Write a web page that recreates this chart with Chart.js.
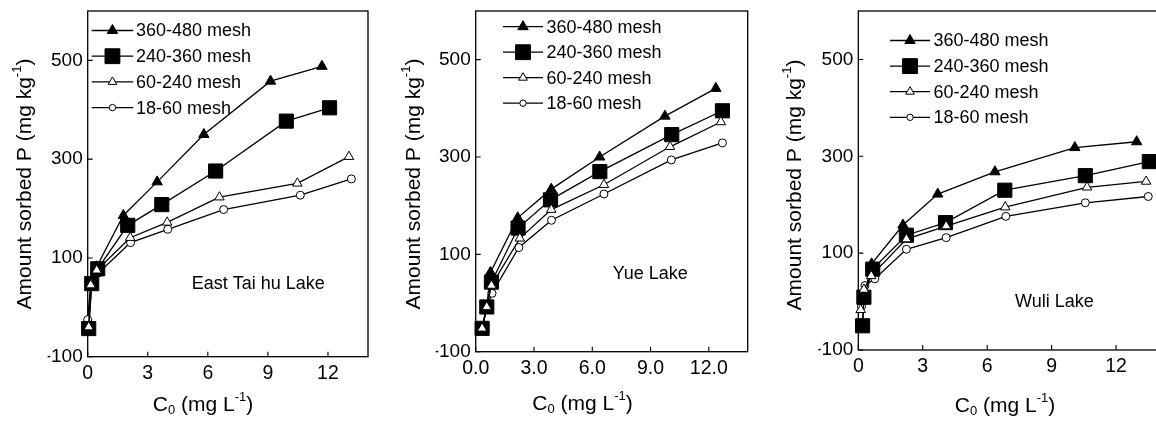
<!DOCTYPE html>
<html><head><meta charset="utf-8">
<script src="https://cdn.jsdelivr.net/npm/chart.js@4.4.1/dist/chart.umd.min.js"></script>
<style>
html,body{margin:0;padding:0;background:#fff;overflow:hidden;width:1156px;height:423px;position:relative;}
canvas{position:absolute;left:0;top:0;}
</style></head><body>
<canvas id="c1"></canvas>
<canvas id="c2"></canvas>
<canvas id="c3"></canvas>
<script>
// ---------- data ----------
const seriesLabels = ['360-480 mesh', '240-360 mesh', '60-240 mesh', '18-60 mesh'];
const xTickVals = [0, 3, 6, 9, 12];
const xTickLabelsInt = ['0', '3', '6', '9', '12'];
const xTickLabelsDec = ['0.0', '3.0', '6.0', '9.0', '12.0'];
const yTickVals = [-100, 100, 300, 500];
const yTickLabels = ['-100', '100', '300', '500'];
const panelNames = ['East Tai hu Lake', 'Yue Lake', 'Wuli Lake'];

// East Tai hu Lake
const east_x_360 = [0.05, 0.2, 0.45, 1.78, 3.47, 5.8, 9.13, 11.7];
const east_y_360 = [-43, 50, 82, 186, 254, 350, 458, 488];
const east_x_240 = [0.05, 0.2, 0.5, 2.0, 3.7, 6.39, 9.92, 12.08];
const east_y_240 = [-43, 48, 78, 166, 208, 276, 377, 404];
const east_x_60 = [0.05, 0.15, 0.45, 2.12, 3.97, 6.58, 10.47, 13.05];
const east_y_60 = [-40, 45, 75, 141, 172, 223, 251, 305];
const east_x_18 = [0.0, 0.15, 0.55, 2.14, 4.0, 6.79, 10.62, 13.17];
const east_y_18 = [-25, 48, 70, 131, 158, 198, 227, 260];

// Yue Lake
const yue_x_360 = [0.33, 0.57, 0.76, 2.16, 3.89, 6.38, 9.74, 12.36];
const yue_y_360 = [-52, -8, 63, 175, 234, 300, 384, 441];
const yue_x_240 = [0.33, 0.57, 0.81, 2.18, 3.85, 6.39, 10.09, 12.7];
const yue_y_240 = [-52, -8, 43, 154, 212, 270, 346, 395];
const yue_x_60 = [0.33, 0.57, 0.81, 2.27, 3.89, 6.6, 10.0, 12.62];
const yue_y_60 = [-52, -8, 36, 133, 192, 243, 321, 372];
const yue_x_18 = [0.33, 0.6, 0.84, 2.22, 3.9, 6.6, 10.07, 12.7];
const yue_y_18 = [-50, -6, 20, 114, 170, 224, 294, 329];

// Wuli Lake
const wuli_x_360 = [0.2, 0.26, 0.62, 2.08, 3.7, 6.36, 10.08, 12.96];
const wuli_y_360 = [-50, 10, 78, 158, 222, 268, 318, 330];
const wuli_x_240 = [0.2, 0.26, 0.67, 2.24, 4.06, 6.82, 10.57, 13.55];
const wuli_y_240 = [-50, 9, 67, 137, 163, 230, 260, 289];
const wuli_x_60 = [0.11, 0.26, 0.6, 2.24, 4.09, 6.84, 10.65, 13.4];
const wuli_y_60 = [-17, 25, 53, 129, 156, 195, 236, 248];
const wuli_x_18 = [0.15, 0.31, 0.77, 2.24, 4.09, 6.87, 10.57, 13.5];
const wuli_y_18 = [-10, 33, 47, 108, 132, 176, 204, 217];

// ---------- styles ----------
const FONT = '"Liberation Sans", Arial, Helvetica, sans-serif';
const CW = 1170, CH = 423, YW = 40, XH = 40;
const seriesStyles = [
  {pointStyle: 'triangle', radius: 6, bg: '#000', legendRadius: 6, order: 4},
  {pointStyle: 'rect', radius: 10, bg: '#000', legendRadius: 10.5, order: 2},
  {pointStyle: 'triangle', radius: 5.5, bg: '#fff', legendRadius: 5, order: 1},
  {pointStyle: 'circle', radius: 4, bg: '#fff', legendRadius: 3.2, order: 3}
];

function drawRich(ctx, parts, cx, cy, size) {
  const items = parts.map(p => {
    const s = p.sub || p.sup ? size * 0.62 : size;
    ctx.font = s + 'px ' + FONT;
    return {t: p.t, s, w: ctx.measureText(p.t).width, dy: p.sup ? -size * 0.38 : (p.sub ? size * 0.28 : 0)};
  });
  const total = items.reduce((a, b) => a + b.w, 0);
  let x = cx - total / 2;
  ctx.textBaseline = 'middle';
  ctx.textAlign = 'left';
  items.forEach(it => {
    ctx.font = it.s + 'px ' + FONT;
    ctx.fillText(it.t, x, cy + it.dy);
    x += it.w;
  });
}

const yTitleParts = [{t: 'Amount sorbed P (mg kg'}, {t: '-1', sup: true}, {t: ')'}];
const xTitleParts = [{t: 'C'}, {t: '0', sub: true}, {t: ' (mg L'}, {t: '-1', sup: true}, {t: ')'}];

const decoPlugin = {
  id: 'deco',
  beforeDatasetsDraw(chart, args, o) {
    const ctx = chart.ctx, a = chart.chartArea;
    const xs = chart.scales.x, ys = chart.scales.y;
    ctx.save();
    ctx.strokeStyle = '#000';
    ctx.lineWidth = 1.3;
    ctx.strokeRect(a.left, a.top, a.right - a.left, a.bottom - a.top);
    ctx.lineWidth = 1.1;
    ctx.beginPath();
    xTickVals.forEach(v => {
      const px = xs.getPixelForValue(v);
      ctx.moveTo(px, a.bottom); ctx.lineTo(px, a.bottom - 5);
    });
    yTickVals.forEach(v => {
      const py = ys.getPixelForValue(v);
      ctx.moveTo(a.left, py); ctx.lineTo(a.left + 5, py);
    });
    ctx.stroke();
    ctx.restore();
  },
  afterDatasetsDraw(chart, args, o) {
    const ctx = chart.ctx;
    ctx.save();
    ctx.fillStyle = '#000';
    ctx.strokeStyle = '#000';
    // legend
    chart.data.datasets.forEach((ds, i) => {
      const st = seriesStyles[i];
      const y = o.legendY + i * o.rowH;
      ctx.lineWidth = 1.3;
      ctx.beginPath();
      ctx.moveTo(o.legendX, y); ctx.lineTo(o.legendX + o.lineLen, y);
      ctx.stroke();
      ctx.fillStyle = st.bg;
      ctx.strokeStyle = '#000';
      ctx.lineWidth = 1;
      Chart.helpers.drawPoint(ctx, {pointStyle: st.pointStyle, radius: st.legendRadius, rotation: 0, borderWidth: 1}, o.legendX + o.lineLen / 2, y);
      ctx.fillStyle = '#000';
      ctx.font = '18px ' + FONT;
      ctx.textAlign = 'left';
      ctx.textBaseline = 'middle';
      ctx.fillText(ds.label, o.textX, y + 1);
    });
    // panel name
    ctx.fillStyle = '#000';
    ctx.font = '18px ' + FONT;
    ctx.textAlign = 'left';
    ctx.textBaseline = 'middle';
    ctx.fillText(o.note, o.noteX, o.noteY);
    // axis titles
    drawRich(ctx, xTitleParts, o.xTitleX, o.xTitleY, 21);
    ctx.translate(o.yTitleX, o.yTitleY);
    ctx.rotate(-Math.PI / 2);
    drawRich(ctx, yTitleParts, 0, 0, 21);
    ctx.restore();
  }
};

function makePanel(id, box, xs, ys, xLabels, deco) {
  const cv = document.getElementById(id);
  cv.width = CW; cv.height = CH;
  cv.style.width = CW + 'px'; cv.style.height = CH + 'px';
  const datasets = xs.map((xa, k) => {
    const st = seriesStyles[k];
    return {
      label: seriesLabels[k],
      data: xa.map((x, i) => ({x: x, y: ys[k][i]})),
      borderColor: '#000',
      borderWidth: 1.3,
      backgroundColor: st.bg,
      pointStyle: st.pointStyle,
      pointRadius: st.radius,
      pointBackgroundColor: st.bg,
      pointBorderColor: '#000',
      pointBorderWidth: 1,
      tension: 0,
      fill: false,
      clip: false,
      order: st.order
    };
  });
  return new Chart(cv, {
    type: 'line',
    data: {datasets},
    plugins: [decoPlugin],
    options: {
      responsive: false, animation: false, devicePixelRatio: 1,
      events: [],
      layout: {padding: {left: box.l - YW, right: CW - box.r, top: box.t, bottom: CH - box.b - XH}},
      plugins: {legend: {display: false}, tooltip: {enabled: false}, deco: deco},
      scales: {
        x: {
          type: 'linear', min: 0, max: 14,
          grid: {display: false, drawTicks: false}, border: {display: false},
          afterBuildTicks: s => { s.ticks = xTickVals.map(v => ({value: v})); },
          afterFit: s => { s.height = XH; s.paddingLeft = 0; s.paddingRight = 0; s.paddingTop = 0; s.paddingBottom = 0; },
          ticks: {font: {family: FONT, size: 19.5}, color: '#000', padding: 5, maxRotation: 0, autoSkip: false,
                  callback: (v, i) => xLabels[i]}
        },
        y: {
          type: 'linear', min: -100, max: 600,
          grid: {display: false, drawTicks: false}, border: {display: false},
          afterBuildTicks: s => { s.ticks = yTickVals.map(v => ({value: v})); },
          afterFit: s => { s.width = YW; s.paddingLeft = 0; s.paddingRight = 0; s.paddingTop = 0; s.paddingBottom = 0; },
          ticks: {font: {family: FONT, size: 19}, color: '#000', padding: 5, autoSkip: false,
                  callback: (v, i) => yTickLabels[i]}
        }
      }
    }
  });
}

makePanel('c1', {l: 87.7, r: 368, t: 9.5, b: 356.7},
  [east_x_360, east_x_240, east_x_60, east_x_18],
  [east_y_360, east_y_240, east_y_60, east_y_18], xTickLabelsInt,
  {legendX: 91.7, lineLen: 41.5, textX: 136, legendY: 30.5, rowH: 25.7,
   note: panelNames[0], noteX: 191.7, noteY: 284, xTitleX: 203, xTitleY: 405, yTitleX: 25, yTitleY: 184});

makePanel('c2', {l: 475.7, r: 747.7, t: 7.5, b: 351.7},
  [yue_x_360, yue_x_240, yue_x_60, yue_x_18],
  [yue_y_360, yue_y_240, yue_y_60, yue_y_18], xTickLabelsDec,
  {legendX: 503, lineLen: 40, textX: 546.5, legendY: 26.7, rowH: 25.5,
   note: panelNames[1], noteX: 612.7, noteY: 274, xTitleX: 582.5, xTitleY: 404, yTitleX: 414, yTitleY: 184});

makePanel('c3', {l: 858.3, r: 1160.7, t: 8.5, b: 350},
  [wuli_x_360, wuli_x_240, wuli_x_60, wuli_x_18],
  [wuli_y_360, wuli_y_240, wuli_y_60, wuli_y_18], xTickLabelsInt,
  {legendX: 890, lineLen: 40, textX: 933.5, legendY: 40.5, rowH: 25.6,
   note: panelNames[2], noteX: 1015, noteY: 301.7, xTitleX: 1005, xTitleY: 406, yTitleX: 795, yTitleY: 185});
</script>
</body></html>
